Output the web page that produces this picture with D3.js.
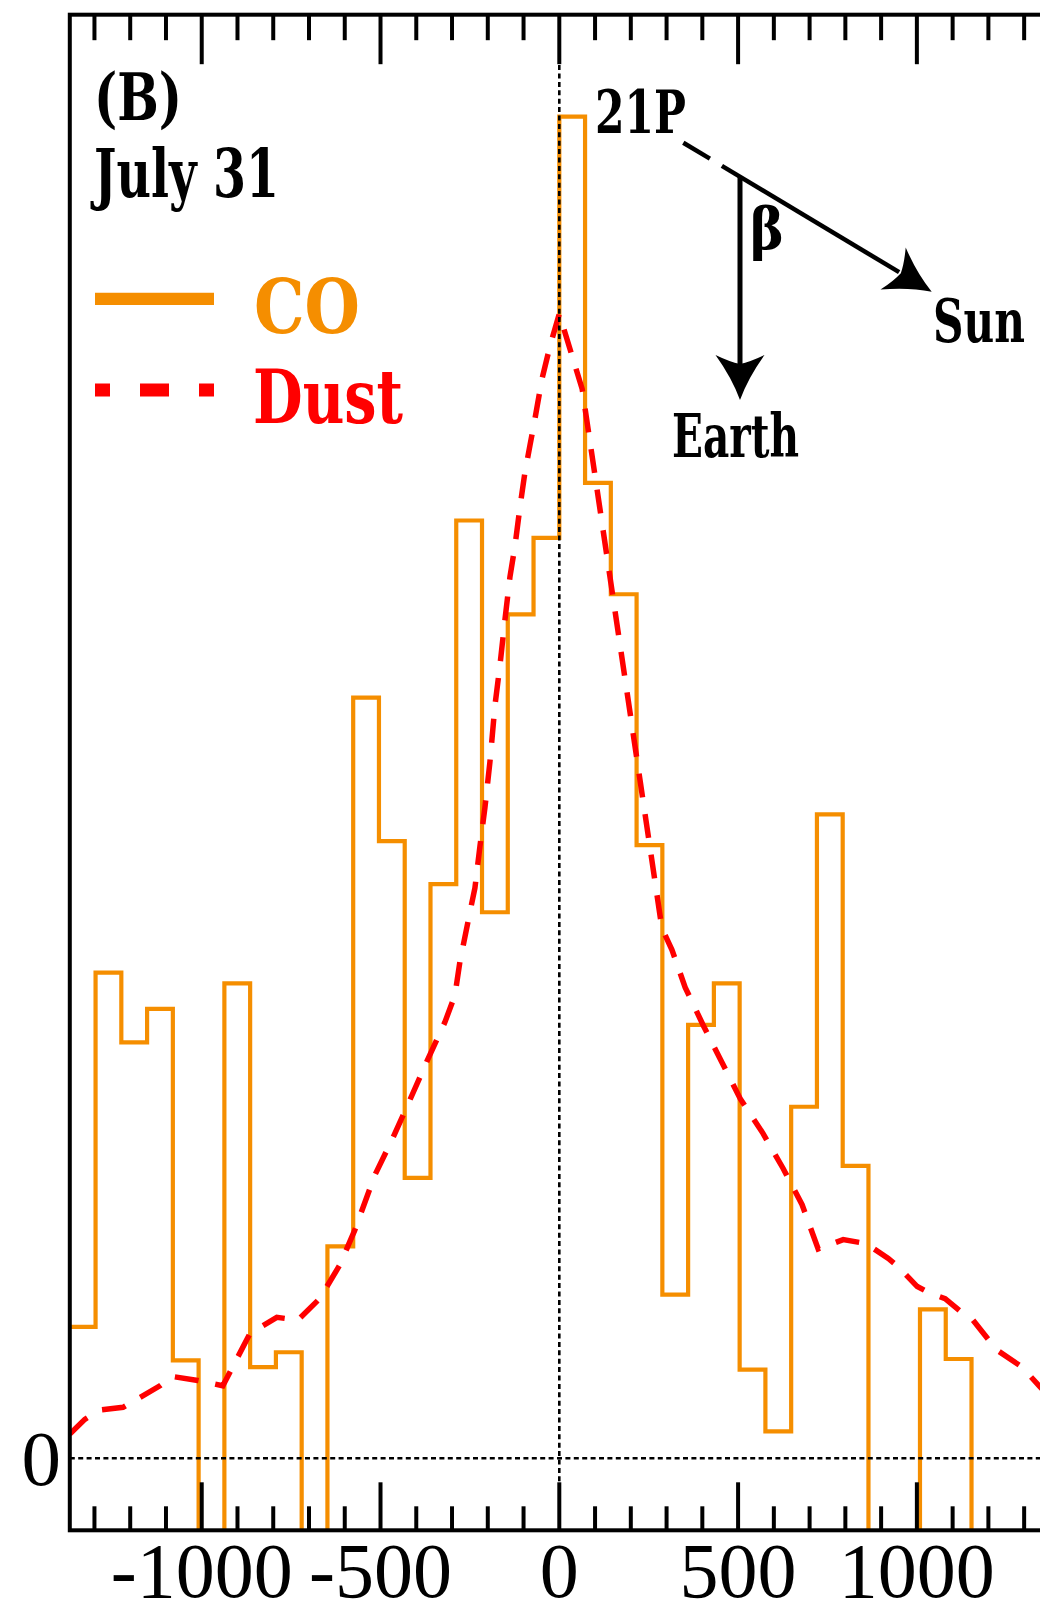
<!DOCTYPE html>
<html>
<head>
<meta charset="utf-8">
<script src="https://cdn.jsdelivr.net/npm/d3@7"></script>
<style>
  html, body { margin: 0; padding: 0; background: #ffffff; }
  svg { display: block; }
</style>
</head>
<body>
<svg id="chart" width="1040" height="1605"></svg>
<script>
// ---------------- DATA ----------------
// CO histogram: bin width (km) and bin indices (bin k spans k*w .. (k+1)*w)
const binWidth = 72.05;
const coBins = d3.range(-19, 19);
// CO values (normalised, peak = 1); negative values fall below the plotted range
const coValues = [
  0.098, 0.362, 0.310, 0.335, 0.073, -0.12, 0.354, 0.068, 0.079, -0.12,
  0.158, 0.567, 0.460, 0.209, 0.428, 0.699, 0.407, 0.629, 0.686, 1.000,
  0.727, 0.644, 0.457, 0.122, 0.323, 0.354, 0.066, 0.020, 0.262, 0.480,
  0.218, -0.12, -0.12, 0.111, 0.074, -0.12, -0.12, -0.12
];
// Dust profile (same normalisation)
const dustX = [
  -1369, -1327, -1285, -1220, -1117, -1083, -1011, -941, -865, -790,
  -731, -670, -614, -572, -516, -465, -418, -370, -320, -292,
  -278, -250, -236, -222, -208, -194, -180, -166, -152, -138,
  -124, -110, -96, -82, -68, -48, -26, 0, 64, 114,
  170, 226, 287, 315, 352, 402, 455, 506, 570, 626,
  679, 724, 794, 858, 920, 947, 1001, 1037, 1079, 1129,
  1157, 1222, 1294, 1345, 1369
];
const dustY = [
  0.018, 0.029, 0.036, 0.038, 0.054, 0.061, 0.058, 0.054, 0.093, 0.105,
  0.103, 0.119, 0.144, 0.170, 0.211, 0.239, 0.267, 0.296, 0.325, 0.345,
  0.370, 0.407, 0.425, 0.456, 0.485, 0.519, 0.561, 0.591, 0.625, 0.657,
  0.680, 0.709, 0.735, 0.755, 0.775, 0.805, 0.829, 0.853, 0.797, 0.707,
  0.606, 0.505, 0.395, 0.379, 0.351, 0.323, 0.295, 0.268, 0.242, 0.216,
  0.189, 0.156, 0.163, 0.160, 0.149, 0.143, 0.128, 0.123, 0.119, 0.108,
  0.103, 0.081, 0.068, 0.053, 0.047
];
const xMajorTicks = [-1000, -500, 0, 500, 1000];
const xTickLabels = ["-1000", "-500", "0", "500", "1000"];
const xMinorTicks = [-1300, -1200, -1100, -900, -800, -700, -600, -400, -300, -200, -100,
                     100, 200, 300, 400, 600, 700, 800, 900, 1100, 1200, 1300];
const yTickValues = [0];
const yTickLabels = ["0"];
const seriesNames = ["CO", "Dust"];

// ---------------- LAYOUT ----------------
const W = 1040, H = 1605;
const plot = { left: 69.8, right: 1048.8, top: 14.7, bottom: 1530.3 };
const ORANGE = "#F58E00", RED = "#FF0000";

const svg = d3.select("#chart");
const x = d3.scaleLinear().domain([-19 * binWidth, 19 * binWidth]).range([plot.left, plot.right]);
const y = d3.scaleLinear().domain([-0.0537, 1.076]).range([plot.bottom, plot.top]);

svg.append("rect").attr("width", W).attr("height", H).attr("fill", "#fff");

svg.append("defs").append("clipPath").attr("id", "plotClip")
  .append("rect")
  .attr("x", plot.left).attr("y", plot.top)
  .attr("width", plot.right - plot.left).attr("height", plot.bottom - plot.top);

const g = svg.append("g").attr("clip-path", "url(#plotClip)");

// CO histogram (step line)
const coPoints = coBins.map((k, i) => [k * binWidth, coValues[i]]);
coPoints.push([(coBins[coBins.length - 1] + 1) * binWidth, coValues[coValues.length - 1]]);
const stepLine = d3.line().x(d => x(d[0])).y(d => y(d[1])).curve(d3.curveStepAfter);
g.append("path")
  .attr("d", stepLine(coPoints))
  .attr("fill", "none")
  .attr("stroke", ORANGE)
  .attr("stroke-width", 4.2)
  .attr("stroke-linejoin", "miter");

// Dust dashed line
const dustLine = d3.line().x(d => x(d[0])).y(d => y(d[1]));
g.append("path")
  .attr("d", dustLine(dustX.map((v, i) => [v, dustY[i]])))
  .attr("fill", "none")
  .attr("stroke", RED)
  .attr("stroke-width", 5.5)
  .attr("stroke-dasharray", "24 17");

// Dotted reference lines
g.append("line")
  .attr("x1", plot.left).attr("x2", plot.right)
  .attr("y1", y(0)).attr("y2", y(0))
  .attr("stroke", "#000").attr("stroke-width", 2.6).attr("stroke-dasharray", "5 3.4");
g.append("line")
  .attr("x1", x(0)).attr("x2", x(0))
  .attr("y1", plot.top).attr("y2", plot.bottom)
  .attr("stroke", "#000").attr("stroke-width", 2.6).attr("stroke-dasharray", "5 3.4");

// Frame
svg.append("rect")
  .attr("x", plot.left).attr("y", plot.top)
  .attr("width", plot.right - plot.left).attr("height", plot.bottom - plot.top)
  .attr("fill", "none").attr("stroke", "#000").attr("stroke-width", 4);

// Ticks (inward, bottom and top)
const tickG = svg.append("g").attr("stroke", "#000").attr("stroke-width", 4);
function ticks(vals, len) {
  vals.forEach(v => {
    tickG.append("line").attr("x1", x(v)).attr("x2", x(v))
      .attr("y1", plot.bottom).attr("y2", plot.bottom - len);
    tickG.append("line").attr("x1", x(v)).attr("x2", x(v))
      .attr("y1", plot.top).attr("y2", plot.top + len + 1.5);
  });
}
ticks(xMajorTicks, 48);
ticks(xMinorTicks, 24);

// Tick labels
const serif = "'Liberation Serif', 'Times New Roman', serif";
svg.append("g").selectAll("text").data(xMajorTicks).join("text")
  .attr("x", d => x(d))
  .attr("y", 1596.5)
  .attr("text-anchor", "middle")
  .attr("font-family", serif)
  .attr("font-size", 78)
  .attr("fill", "#000")
  .text((d, i) => xTickLabels[i]);

svg.append("g").selectAll("text").data(yTickValues).join("text")
  .attr("x", 61)
  .attr("y", d => y(d) + 27)
  .attr("text-anchor", "end")
  .attr("font-family", serif)
  .attr("font-size", 79)
  .attr("fill", "#000")
  .text((d, i) => yTickLabels[i]);

// Bold annotation text
const bold = "'DejaVu Serif', serif";
function label(txt, px, py, size, len, color) {
  svg.append("text")
    .attr("x", px).attr("y", py)
    .attr("font-family", bold)
    .attr("font-weight", "bold")
    .attr("font-stretch", "condensed")
    .attr("font-size", size)
    .attr("fill", color || "#000")
    .attr("textLength", len)
    .attr("lengthAdjust", "spacingAndGlyphs")
    .text(txt);
}
label("(B)", 94, 120, 66, 88);
label("July 31", 94, 196.5, 68, 185);
label(seriesNames[0], 254, 333, 75, 106, ORANGE);
label(seriesNames[1], 253, 422.5, 74, 150, RED);
label("21P", 595, 133, 59, 91);
label("Sun", 933, 341.5, 59, 92);
label("Earth", 672, 456.5, 59, 127);
label("β", 750, 249, 58, 34);

// Legend samples
svg.append("line")
  .attr("x1", 95).attr("x2", 214).attr("y1", 298.8).attr("y2", 298.8)
  .attr("stroke", ORANGE).attr("stroke-width", 12.3);
svg.append("line")
  .attr("x1", 95).attr("x2", 214).attr("y1", 390).attr("y2", 390)
  .attr("stroke", RED).attr("stroke-width", 13)
  .attr("stroke-dasharray", "29 30").attr("stroke-dashoffset", 14);

// Geometry sketch: 21P -> Sun, Earth
function arrowHead(tx, ty, ang) {
  const ca = Math.cos(ang), sa = Math.sin(ang);
  const P = (a, p) => [tx + a * ca - p * sa, ty + a * sa + p * ca];
  const t = P(0, 0), b1 = P(-45, -24.5), b2 = P(-45, 24.5), n = P(-36, 0);
  const c1 = P(-22, -8), c2 = P(-22, 8), c3 = P(-38, -10), c4 = P(-38, 10);
  const path = `M${t}Q${c1} ${b1}Q${c3} ${n}Q${c4} ${b2}Q${c2} ${t}Z`;
  svg.append("path").attr("d", path).attr("fill", "#000");
}
const s0 = [683.3, 142.7], tip = [931.7, 291.7];
const ang = Math.atan2(tip[1] - s0[1], tip[0] - s0[0]);
const ux = Math.cos(ang), uy = Math.sin(ang);
svg.append("line")
  .attr("x1", s0[0]).attr("y1", s0[1])
  .attr("x2", s0[0] + 31 * ux).attr("y2", s0[1] + 31 * uy)
  .attr("stroke", "#000").attr("stroke-width", 4.5);
svg.append("line")
  .attr("x1", s0[0] + 45 * ux).attr("y1", s0[1] + 45 * uy)
  .attr("x2", tip[0] - 38 * ux).attr("y2", tip[1] - 38 * uy)
  .attr("stroke", "#000").attr("stroke-width", 4.5);
arrowHead(tip[0], tip[1], ang);

const ex = 740, eTop = s0[1] + (ex - s0[0]) * Math.tan(ang), eTip = 400;
svg.append("line")
  .attr("x1", ex).attr("y1", eTop).attr("x2", ex).attr("y2", eTip - 36)
  .attr("stroke", "#000").attr("stroke-width", 5);
arrowHead(ex, eTip, Math.PI / 2);
</script>
</body>
</html>
